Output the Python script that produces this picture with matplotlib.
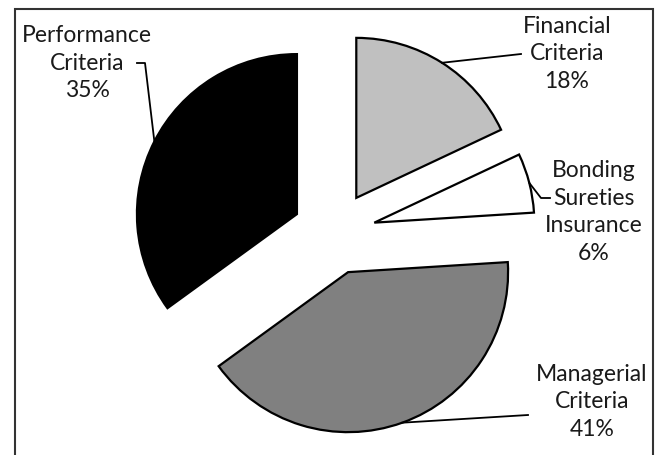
import numpy as np
import matplotlib.pyplot as plt
from matplotlib.patches import Rectangle

# Evaluation criteria weights
labels = ["Financial\nCriteria", "Bonding\nSureties\nInsurance", "Managerial\nCriteria", "Performance\nCriteria"]
shares = [18, 6, 41, 35]
colors = ["#c0c0c0", "#ffffff", "#808080", "#000000"]
explode = [0.26, 0.26, 0.26, 0.26]

W, H, DPI = 656, 455, 100
CX, CY, R = 334, 233, 160  # pie centre and radius in pixels

fig = plt.figure(figsize=(W / DPI, H / DPI), dpi=DPI)
ax = fig.add_axes([0, 0, 1, 1])

def px(x, y):
    return (x - CX) / R, (CY - y) / R

wedges, _ = ax.pie(shares, colors=colors, explode=explode, startangle=90,
                   counterclock=False, radius=1.0, frame=True,
                   wedgeprops=dict(edgecolor="black", linewidth=1.6))
ax.set_xlim(-CX / R, (W - CX) / R)
ax.set_ylim(-(H - CY) / R, CY / R)
ax.set_aspect("auto")
ax.axis("off")

# anchor on each wedge's outer arc at its mid angle
anchors = []
for w in wedges:
    mid = np.deg2rad((w.theta1 + w.theta2) / 2)
    cx, cy = w.center
    anchors.append((cx + w.r * np.cos(mid), cy + w.r * np.sin(mid)))

txt = dict(fontsize=16.5, ha="center", va="center", multialignment="center",
           color="#1a1a1a", family="Lato", linespacing=1.4)

text_pos = [px(567, 54), px(594, 212), px(592, 402), px(87, 63)]
for lab, s, pos in zip(labels, shares, text_pos):
    ax.text(pos[0], pos[1], f"{lab}\n{s}%", **txt)

# leader lines
lw = dict(color="black", linewidth=1.3)
legs = [
    [px(521, 54)],
    [px(541, 198), px(550, 198)],
    [px(528, 415)],
    [px(145, 63), px(137, 63)],
]
for a, pts in zip(anchors, legs):
    xs = [a[0]] + [p[0] for p in pts]
    ys = [a[1]] + [p[1] for p in pts]
    ax.plot(xs, ys, **lw)

# outer frame
fig.patches.append(Rectangle((15 / W, -0.02), (653 - 15) / W, (H - 9) / H + 0.02,
                             transform=fig.transFigure, fill=False,
                             edgecolor="#333333", linewidth=1.5))

fig.savefig("out.png", dpi=DPI)
